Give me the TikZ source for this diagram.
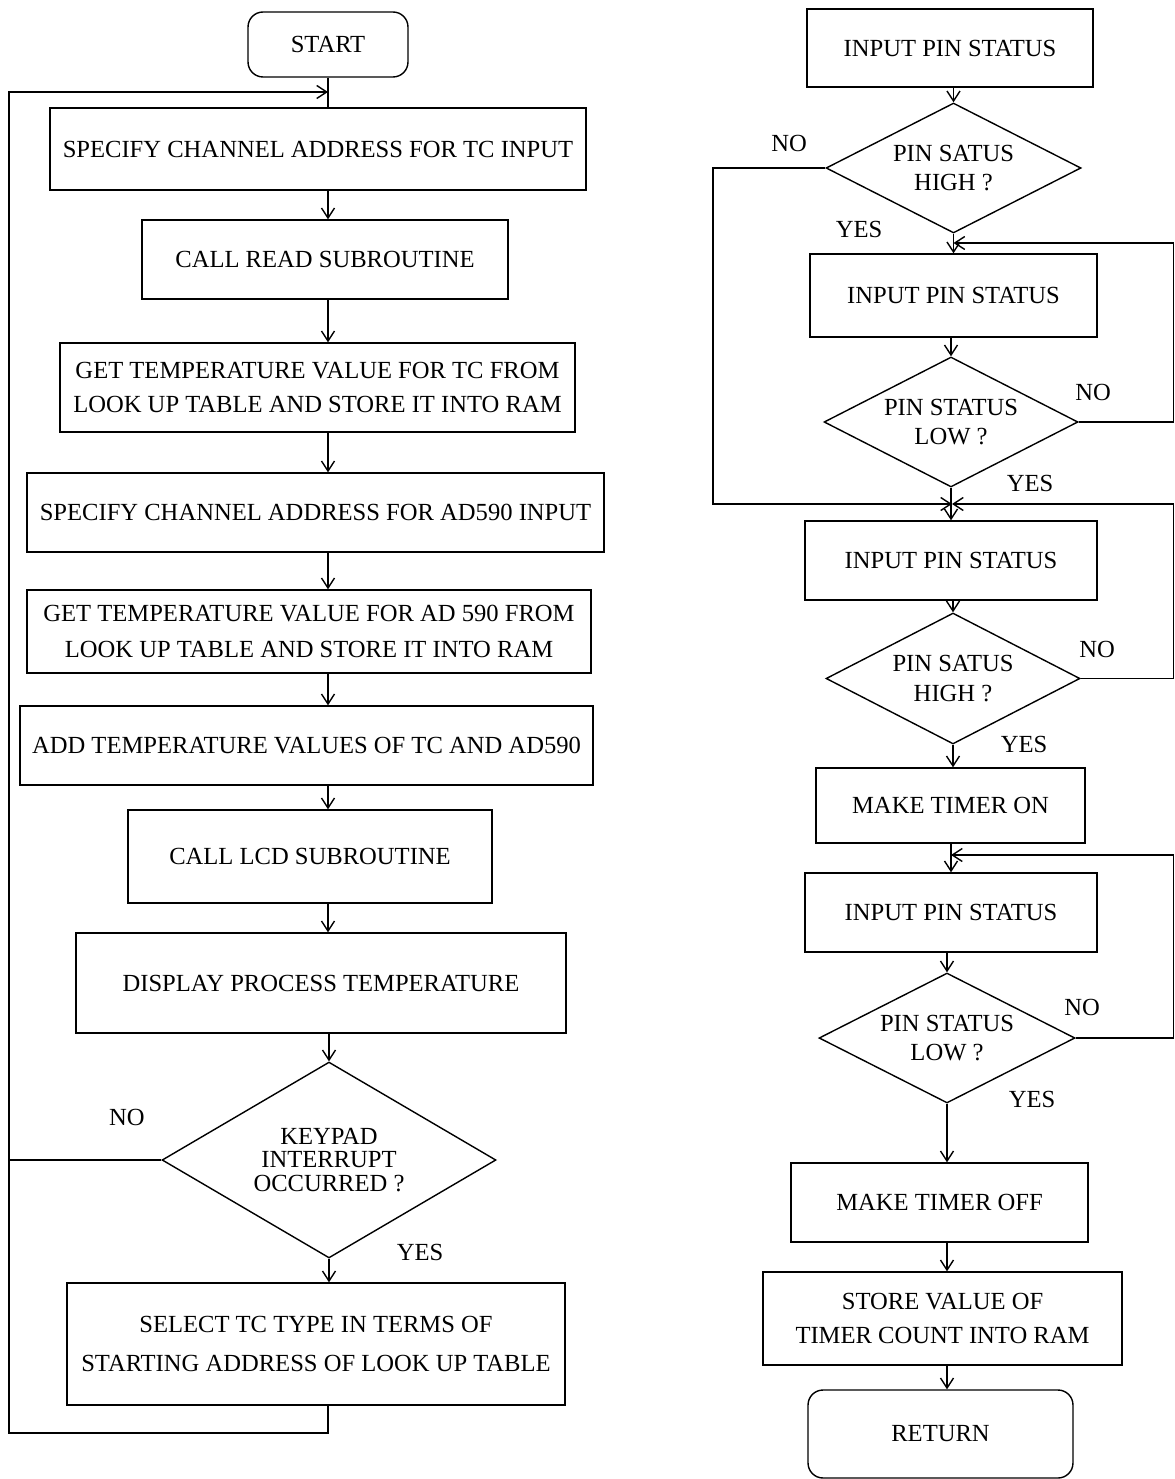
\documentclass[tikz,border=0pt]{standalone}
\usepackage{fontspec}
\setmainfont{Liberation Serif}
\usepackage{tikz}
\usetikzlibrary{shapes.geometric, arrows.meta, calc}
\tikzstyle{term} = [rectangle, rounded corners=3mm, draw=black, line width=0.8pt, text centered]
\tikzstyle{proc} = [rectangle, draw=black, line width=0.8pt, align=center]
\tikzstyle{dec} = [diamond, draw=black, line width=0.8pt, align=center, inner sep=0pt]
\tikzstyle{arrow} = [line width=0.8pt,->,>={Straight Barb[length=2mm,width=2.6mm]}]
\tikzstyle{line} = [line width=0.8pt]
\tikzstyle{lbl} = [inner sep=0pt]

\begin{document}
\begin{tikzpicture}[x=0.02cm, y=-0.02cm, font=\fontsize{14}{19.5}\selectfont]
    \useasboundingbox (0,0) rectangle (1175,1479);

    % left: main loop
    \node (start) [term, minimum width=3.2cm, minimum height=1.3cm] at (328,44.5) {START};
    \node (b1) [proc, minimum width=10.72cm, minimum height=1.64cm] at (318,149) {SPECIFY CHANNEL ADDRESS FOR TC INPUT};
    \node (b2) [proc, minimum width=7.32cm, minimum height=1.58cm] at (325,259.5) {CALL READ SUBROUTINE};
    \node (b3) [proc, minimum width=10.3cm, minimum height=1.78cm] at (317.5,387.5) {GET TEMPERATURE VALUE FOR TC FROM\\LOOK UP TABLE AND STORE IT INTO RAM};
    \node (b4) [proc, minimum width=11.54cm, minimum height=1.58cm] at (315.5,512.5) {SPECIFY CHANNEL ADDRESS FOR AD590 INPUT};
    \node (b5) [proc, minimum width=11.28cm, minimum height=1.66cm, font=\fontsize{14}{20.4}\selectfont] at (309,631.5) {GET TEMPERATURE VALUE FOR AD 590 FROM\\LOOK UP TABLE AND STORE IT INTO RAM};
    \node (b6) [proc, minimum width=11.46cm, minimum height=1.58cm] at (306.5,745.5) {ADD TEMPERATURE VALUES OF TC AND AD590};
    \node (b7) [proc, minimum width=7.28cm, minimum height=1.86cm] at (310,856.5) {CALL LCD SUBROUTINE};
    \node (b8) [proc, minimum width=9.8cm, minimum height=2cm] at (321,983) {DISPLAY PROCESS TEMPERATURE};
    \node (dk) [dec, aspect=1.7, minimum width=6.68cm, minimum height=3.92cm, font=\fontsize{14}{13.6}\selectfont] at (329,1160) {KEYPAD\\INTERRUPT\\OCCURRED ?};
    \node (b9) [proc, minimum width=9.96cm, minimum height=2.44cm, font=\fontsize{14}{22.7}\selectfont] at (316,1344) {SELECT TC TYPE IN TERMS OF\\STARTING ADDRESS OF LOOK UP TABLE};
    \node (kno) [lbl] at (127,1117) {NO};
    \node (kyes) [lbl] at (420,1252) {YES};

    \coordinate (j1) at (328,92);
    \coordinate (lt) at (9,92);
    \coordinate (lb) at (9,1433);

    \draw [line] (start.south) -- (start.south |- b1.north);
    \draw [arrow] (b1.south -| j1) -- (b2.north -| j1);
    \draw [arrow] (b2.south -| j1) -- (b3.north -| j1);
    \draw [arrow] (b3.south -| j1) -- (b4.north -| j1);
    \draw [arrow] (b4.south -| j1) -- (b5.north -| j1);
    \draw [arrow] (b5.south -| j1) -- (b6.north -| j1);
    \draw [arrow] (b6.south -| j1) -- (b7.north -| j1);
    \draw [arrow] (b7.south -| j1) -- (b8.north -| j1);
    \draw [arrow] (b8.south -| dk.north) -- (dk.north);
    \draw [arrow] (dk.south) -- (dk.south |- b9.north);
    \draw [arrow] (dk.west) -| (lt) -- (j1);
    \draw [line] (b9.south -| j1) |- (lb) -- (lb |- dk.west);

    % right: timer subroutine
    \node (r1) [proc, minimum width=5.72cm, minimum height=1.56cm] at (950,48) {INPUT PIN STATUS};
    \node (dr1) [dec, aspect=1.96, minimum width=5.1cm, minimum height=2.6cm, font=\fontsize{14}{17}\selectfont] at (953.5,168) {PIN SATUS\\HIGH ?};
    \node (r2) [proc, minimum width=5.74cm, minimum height=1.66cm] at (953.5,295.5) {INPUT PIN STATUS};
    \node (dr2) [dec, aspect=1.96, minimum width=5.08cm, minimum height=2.6cm, font=\fontsize{14}{17}\selectfont] at (951,422) {PIN STATUS\\LOW ?};
    \node (r3) [proc, minimum width=5.84cm, minimum height=1.58cm] at (951,560.5) {INPUT PIN STATUS};
    \node (dr3) [dec, aspect=1.94, minimum width=5.08cm, minimum height=2.62cm, font=\fontsize{14}{17}\selectfont] at (953,678.5) {PIN SATUS\\HIGH ?};
    \node (r4) [proc, minimum width=5.38cm, minimum height=1.5cm] at (950.5,805.5) {MAKE TIMER ON};
    \node (r5) [proc, minimum width=5.84cm, minimum height=1.58cm] at (951,912.5) {INPUT PIN STATUS};
    \node (dr4) [dec, aspect=1.97, minimum width=5.12cm, minimum height=2.6cm, font=\fontsize{14}{17}\selectfont] at (947,1038) {PIN STATUS\\LOW ?};
    \node (r6) [proc, minimum width=5.94cm, minimum height=1.58cm] at (939.5,1202.5) {MAKE TIMER OFF};
    \node (r7) [proc, minimum width=7.18cm, minimum height=1.86cm, font=\fontsize{14}{19.3}\selectfont] at (942.5,1318.5) {STORE VALUE OF\\TIMER COUNT INTO RAM};
    \node (ret) [term, minimum width=5.3cm, minimum height=1.76cm] at (940.5,1434) {RETURN};

    \node (no1) [lbl] at (789,143) {NO};
    \node (yes1) [lbl] at (859,229) {YES};
    \node (no2) [lbl] at (1093,392) {NO};
    \node (yes2) [lbl] at (1030,483) {YES};
    \node (no3) [lbl] at (1097,649) {NO};
    \node (yes3) [lbl] at (1024,744) {YES};
    \node (no4) [lbl] at (1082,1007) {NO};
    \node (yes4) [lbl] at (1032,1099) {YES};

    \coordinate (j2) at (953.5,243);
    \coordinate (j3) at (952,504);
    \coordinate (j4) at (951,855);
    \coordinate (jl) at (713,504);
    \coordinate (rt2) at (1173.5,243);
    \coordinate (rt3) at (1173.5,504);
    \coordinate (rt4) at (1173.5,855);

    \draw [arrow] (r1.south -| dr1.north) -- (dr1.north);
    \draw [arrow] (dr1.south) -- (dr1.south |- r2.north);
    \draw [arrow] (r2.south -| dr2.north) -- (dr2.north);
    \draw [arrow] (dr2.south) -- (dr2.south |- r3.north);
    \draw [arrow] (r3.south -| dr3.north) -- (dr3.north);
    \draw [arrow] (dr3.south) -- (dr3.south |- r4.north);
    \draw [arrow] (r4.south -| r5.north) -- (r5.north);
    \draw [arrow] (r5.south -| dr4.north) -- (dr4.north);
    \draw [arrow] (dr4.south) -- (dr4.south |- r6.north);
    \draw [arrow] (r6.south -| dr4.south) -- (dr4.south |- r7.north);
    \draw [arrow] (r7.south -| dr4.south) -- (dr4.south |- ret.north);

    \draw [arrow] (dr1.west) -| (jl) -- (j3);
    \draw [arrow] (dr2.east) -| (rt2) -- (j2);
    \draw [arrow] (dr3.east) -| (rt3) -- (j3);
    \draw [arrow] (dr4.east) -| (rt4) -- (j4);
\end{tikzpicture}
\end{document}
